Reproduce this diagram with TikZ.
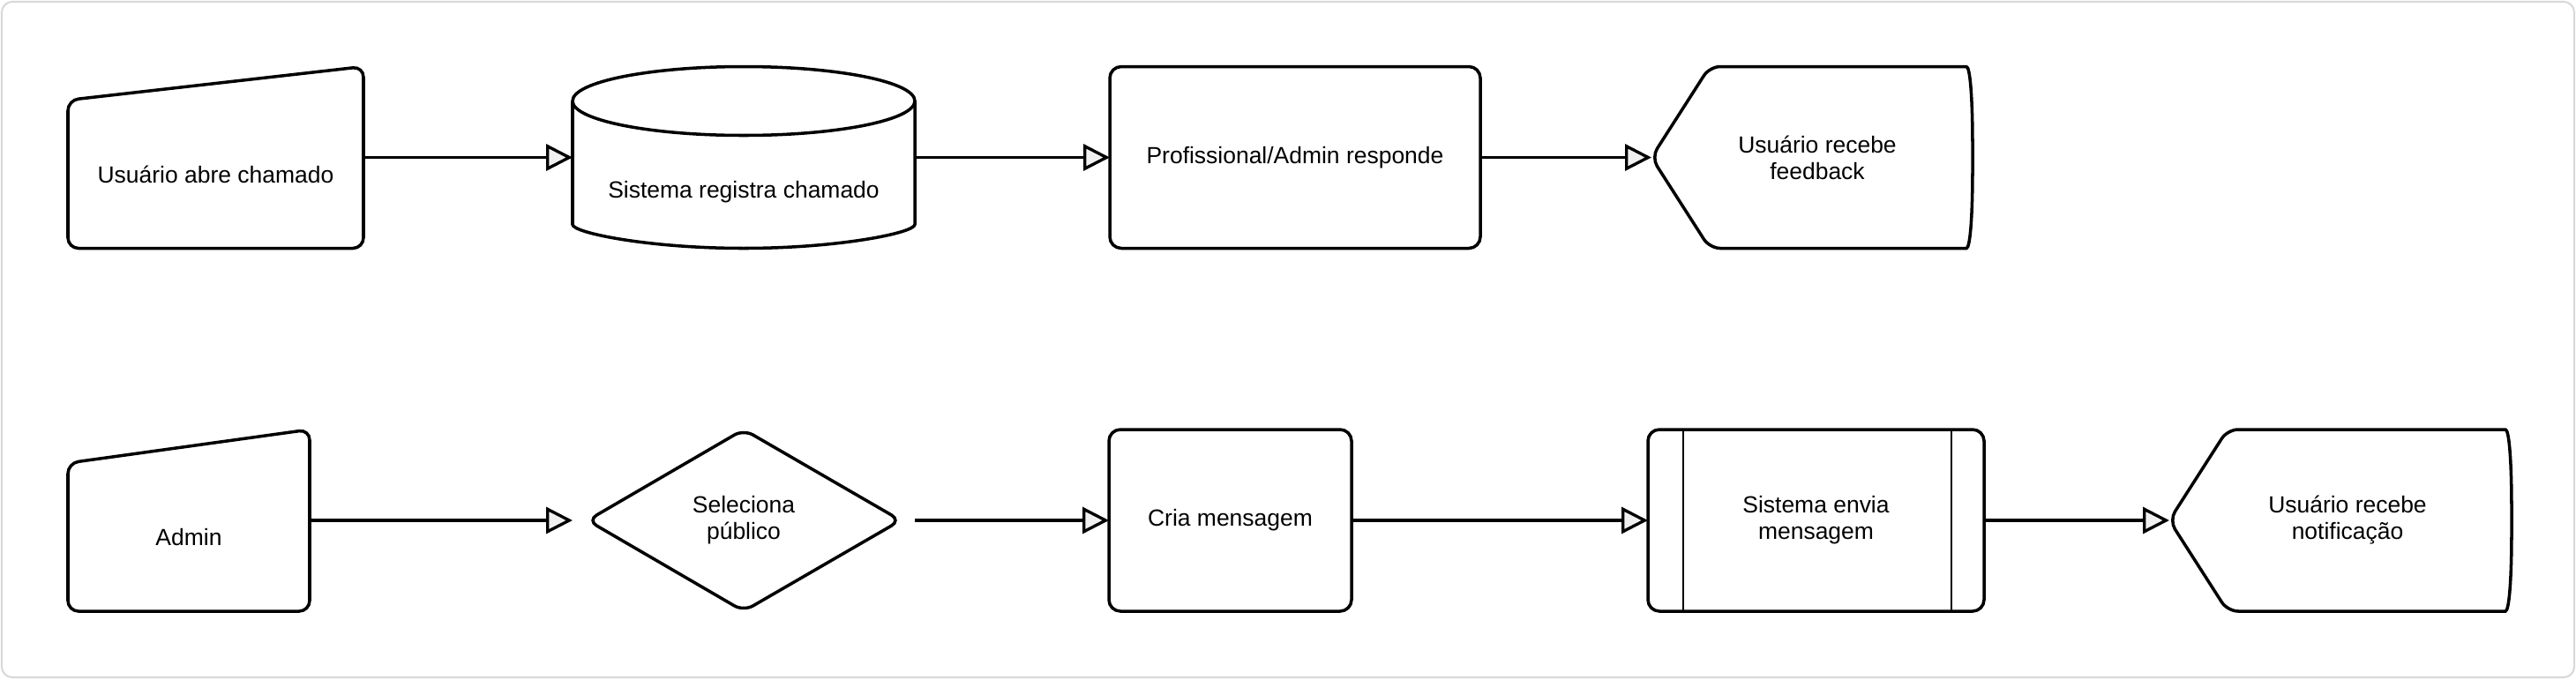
\documentclass[tikz,border=0pt]{standalone}
\usepackage{fontspec}
\setmainfont{Liberation Sans}
\usetikzlibrary{positioning,calc,arrows.meta}

\begin{document}
\begin{tikzpicture}[node distance=2.2cm,  % gaps set per node below
  font=\fontsize{7.53pt}{8.54pt}\selectfont,
  slot/.style={minimum height=2.06cm, inner sep=0pt, outer sep=0pt, align=center},
  procbox/.style={slot, draw, line width=1pt, rounded corners=0.13cm},
  edge/.style={line width=1pt, rounded corners=0.12cm},
  flow/.style={line width=0.95pt, -{Triangle[length=0.30cm, width=0.30cm, fill=gray!12]}}]

  \useasboundingbox (0,0) rectangle (29.2,-7.7);
  \draw[gray!30, line width=0.6pt, rounded corners=0.12cm] (0.02,-0.02) rectangle (29.18,-7.68);

  % first flow: chamado
  \node (ui1) [slot, minimum width=3.35cm] at (2.445,-1.785) {};
  \node (cyl) [slot, minimum width=3.88cm, right=2.37cm of ui1] {};
  \node (resp) [procbox, minimum width=4.20cm, right=2.21cm of cyl] {Profissional/Admin responde};
  \node (fb) [slot, minimum width=3.64cm, right=1.94cm of resp] {};

  \draw[edge] ($(ui1.north west)+(0,-0.38)$) -- (ui1.north east) -- (ui1.south east) -- (ui1.south west) -- cycle;
  \node (ui1txt) at ($(ui1.center)+(0,-0.19)$) {Usuário abre chamado};

  \draw[edge] ($(cyl.north west)+(0,-0.39)$) -- ($(cyl.south west)+(0,0.39)$)
      arc[start angle=180, end angle=360, x radius=1.94cm, y radius=0.39cm] -- ($(cyl.north east)+(0,-0.39)$);
  \draw[edge] ($(cyl.north)+(0,-0.39)$) ellipse [x radius=1.94cm, y radius=0.39cm];
  \node (cyltxt) at ($(cyl.center)+(0,-0.39)$) {Sistema registra chamado};

  \draw[edge] (fb.west) -- ($(fb.north west)+(0.66,0)$) -- ($(fb.north east)+(-0.19,0)$)
      .. controls +(0.16,0) and +(0,0.7) .. (fb.east)
      .. controls +(0,-0.7) and +(0.16,0) .. ($(fb.south east)+(-0.19,0)$)
      -- ($(fb.south west)+(0.66,0)$) -- cycle;
  \node (fbtxt) [align=center] at ($(fb.center)+(0.06,0)$) {Usuário recebe\\feedback};

  \draw[flow] (ui1.east) -- (cyl.west);
  \draw[flow] (cyl.east) -- (resp.west);
  \draw[flow] (resp.east) -- (fb.west);

  % second flow: mensagem
  \node (adm) [slot, minimum width=2.74cm] at (2.14,-5.90) {};
  \node (sel) [slot, minimum width=3.88cm, right=2.98cm of adm] {Seleciona\\público};
  \node (cria) [procbox, minimum width=2.75cm, right=2.20cm of sel] {Cria mensagem};
  \node (envia) [procbox, minimum width=3.81cm, right=3.36cm of cria] {Sistema envia\\mensagem};
  \node (notif) [slot, minimum width=3.88cm, right=2.10cm of envia] {};

  \draw[edge] ($(adm.north west)+(0,-0.38)$) -- (adm.north east) -- (adm.south east) -- (adm.south west) -- cycle;
  \node (admtxt) at ($(adm.center)+(0,-0.19)$) {Admin};

  \draw[edge] ($(sel.west)+(0.17,0)$) -- (sel.north) -- ($(sel.east)+(-0.16,0)$) -- (sel.south) -- cycle;

  \draw[line width=0.65pt] ($(envia.north west)+(0.40,0)$) -- ($(envia.south west)+(0.40,0)$);
  \draw[line width=0.65pt] ($(envia.north east)+(-0.37,0)$) -- ($(envia.south east)+(-0.37,0)$);

  \draw[edge] (notif.west) -- ($(notif.north west)+(0.66,0)$) -- ($(notif.north east)+(-0.19,0)$)
      .. controls +(0.16,0) and +(0,0.7) .. (notif.east)
      .. controls +(0,-0.7) and +(0.16,0) .. ($(notif.south east)+(-0.19,0)$)
      -- ($(notif.south west)+(0.66,0)$) -- cycle;
  \node (notiftxt) [align=center] at ($(notif.center)+(0.08,0)$) {Usuário recebe\\notificação};

  \draw[flow] (adm.east) -- (sel.west);
  \draw[flow] (sel.east) -- (cria.west);
  \draw[flow] (cria.east) -- (envia.west);
  \draw[flow] (envia.east) -- (notif.west);
\end{tikzpicture}
\end{document}
